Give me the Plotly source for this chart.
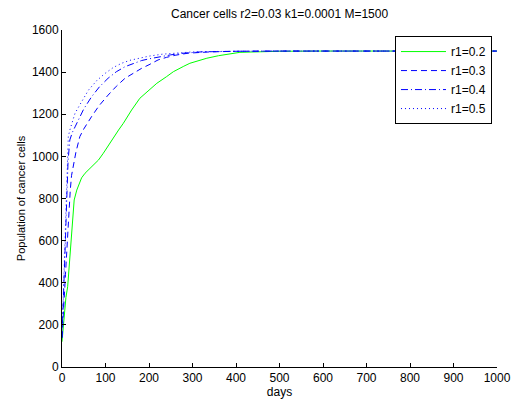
import plotly.graph_objects as go

t_02 = [0, 3, 6, 9, 13, 17, 21, 25, 28, 34, 40, 45, 53, 61, 72, 84, 95, 107, 118, 130, 141, 160, 179, 200, 218, 240, 256, 280, 294, 333, 360, 409, 450, 500, 600, 700, 800, 900, 1000]
v_02 = [120, 190, 270, 330, 381, 492, 603, 698, 793, 840, 875, 898, 920, 936, 958, 983, 1015, 1054, 1090, 1125, 1157, 1220, 1276, 1315, 1347, 1378, 1402, 1428, 1442, 1466, 1478, 1494, 1497, 1499, 1500, 1500, 1500, 1500, 1500]

t_03 = [0, 2, 4, 6, 8, 10, 13, 16, 19, 22, 27, 32, 41, 50, 68, 85, 106, 125, 145, 165, 183, 200, 221, 240, 260, 290, 340, 400, 500, 1000]
v_03 = [140, 200, 280, 360, 440, 520, 640, 740, 840, 910, 970, 1020, 1094, 1130, 1189, 1240, 1291, 1333, 1371, 1397, 1418, 1435, 1458, 1470, 1480, 1490, 1496, 1499, 1500, 1500]

t_04 = [0, 2, 4, 6, 8, 10, 12, 14, 18, 24, 30, 38, 50, 68, 86, 106, 125, 145, 165, 183, 200, 218, 250, 280, 320, 400, 500, 1000]
v_04 = [140, 240, 360, 480, 610, 740, 860, 980, 1078, 1115, 1140, 1173, 1225, 1283, 1330, 1371, 1402, 1426, 1443, 1455, 1463, 1470, 1482, 1490, 1496, 1499, 1500, 1500]

t_05 = [0, 2, 4, 6, 8, 10, 12, 14.5, 18, 22, 30, 41, 61, 80, 99, 118, 137, 156, 175, 200, 230, 260, 300, 350, 420, 500, 1000]
v_05 = [140, 270, 420, 580, 730, 880, 1000, 1094, 1125, 1150, 1205, 1245, 1315, 1360, 1394, 1422, 1442, 1456, 1466, 1476, 1485, 1491, 1496, 1498, 1500, 1500, 1500]

series = [
    ("r1=0.2", t_02, v_02, "#00ff00", "solid"),
    ("r1=0.3", t_03, v_03, "#0000ff", "6px,4px"),
    ("r1=0.4", t_04, v_04, "#0000ff", "7px,3px,1px,3px"),
    ("r1=0.5", t_05, v_05, "#0000ff", "1px,3px"),
]

fig = go.Figure()
for name, t, v, c, d in series:
    fig.add_trace(go.Scatter(x=t, y=v, mode="lines", name=name,
                             line=dict(color=c, width=1, dash=d)))

font = "Liberation Sans, Arial, sans-serif"
fig.update_layout(
    width=512, height=405,
    margin=dict(l=62, r=15, t=30, b=38, autoexpand=False),
    paper_bgcolor="white", plot_bgcolor="white",
    font=dict(family=font, size=12, color="black"),
    title=dict(text="Cancer cells r2=0.03 k1=0.0001 M=1500", x=0.546, xanchor="center",
               y=0.965, yanchor="middle", font=dict(size=12)),
    showlegend=True,
    legend=dict(x=0.9885, xanchor="right", y=0.982, yanchor="top",
                bordercolor="black", borderwidth=1, bgcolor="white",
                font=dict(size=12), tracegroupgap=0, itemwidth=45),
    xaxis=dict(range=[0, 1000], dtick=100, showgrid=False, zeroline=False,
               showline=True, linecolor="black", linewidth=1, automargin=False,
               ticks="inside", ticklen=4, tickcolor="black",
               tickfont=dict(size=12),
               title=dict(text="days", standoff=3, font=dict(size=12))),
    yaxis=dict(range=[0, 1600], dtick=200, showgrid=False, zeroline=False,
               showline=True, linecolor="black", linewidth=1, automargin=False,
               ticks="inside", ticklen=4, tickcolor="black",
               tickfont=dict(size=12),
               title=dict(text="Population of cancer cells", standoff=4, font=dict(size=11))),
)
fig.write_html("out.html")
